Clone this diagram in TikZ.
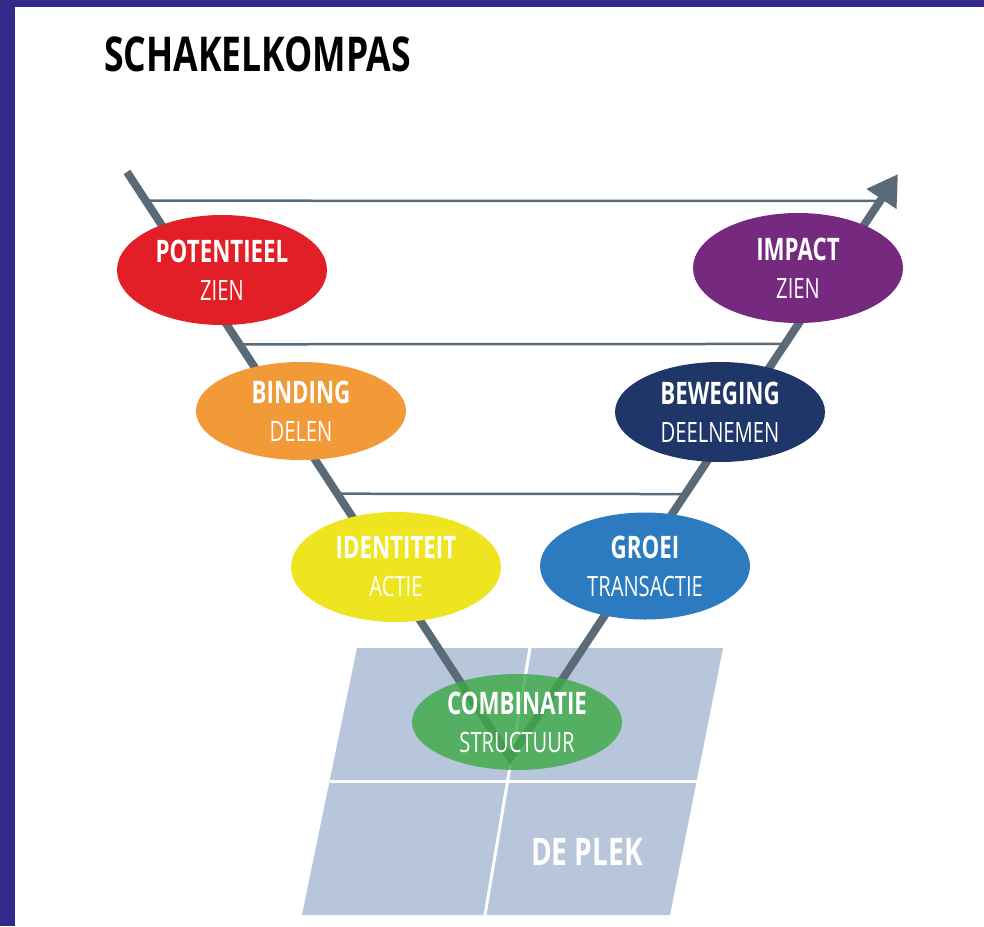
\documentclass[tikz,border=0pt]{standalone}
\usepackage{fontspec}
\usetikzlibrary{shapes.geometric,arrows.meta,calc}
\newfontfamily\ovalfont{Open Sans}[FakeStretch=0.72]
\newfontfamily\titlefont{Open Sans}[FakeStretch=0.74]
\definecolor{frameblue}{HTML}{33298A}
\definecolor{armgray}{HTML}{5B6A77}
\definecolor{plekblue}{HTML}{B7C6DA}
\definecolor{potred}{HTML}{E21F26}
\definecolor{bindorange}{HTML}{F29A38}
\definecolor{identyellow}{HTML}{EEE520}
\definecolor{groeiblue}{HTML}{2C7BC0}
\definecolor{combigreen}{HTML}{3DAA45}
\definecolor{bewegnavy}{HTML}{1F3668}
\definecolor{impactpurple}{HTML}{752A80}
\newcommand{\ovaltext}[2]{{\fontsize{31}{38}\selectfont\bfseries #1}\\{\fontsize{28}{38}\selectfont #2}}
\begin{document}
\begin{tikzpicture}[x=1pt,y=1pt,yscale=-1,
  oval/.style={ellipse,minimum width=210pt,minimum height=110pt,inner sep=0pt,text=white,align=center,
    font=\ovalfont\fontsize{30}{38}\selectfont},
  arm/.style={draw=armgray,line width=8pt},
  rung/.style={draw=armgray,line width=2.5pt}]
%frame
\fill[white] (0,0) rectangle (984,926);
\fill[frameblue] (0,0) rectangle (984,7);
\fill[frameblue] (0,0) rectangle (15,926);
\useasboundingbox (0,0) rectangle (984,926);

% Title
\node[anchor=west,inner sep=0pt,font=\titlefont\fontsize{48}{48}\selectfont\bfseries] (title) at (104,54) {SCHAKELKOMPAS};

%the place
\coordinate (p1) at (357,648);
\coordinate (p2) at (723,648);
\coordinate (p3) at (670,915);
\coordinate (p4) at (302,915);
\fill[plekblue] (p1) -- (p2) -- (p3) -- (p4) -- cycle;
\draw[white,line width=3pt] ($(p1)!0.5!(p4)$) -- ($(p2)!0.5!(p3)$);
\draw[white,line width=3pt] (530,648) -- (485,915);
\node[font=\titlefont\fontsize{38}{38}\selectfont\bfseries,text=white] (plek) at (587,852) {DE PLEK};

%the V
\coordinate (vstart) at (127,172);
\coordinate (vtip) at (510,758);
\coordinate (vend) at (898,174);
\draw[rung] ($(vstart)!0.049!(vtip)$) -- ($(vtip)!0.954!(vend)$);
\draw[rung] ($(vstart)!0.294!(vtip)$) -- ($(vtip)!0.709!(vend)$);
\draw[rung] ($(vstart)!0.549!(vtip)$) -- ($(vtip)!0.452!(vend)$);
\draw[arm,-{Triangle[length=30pt,width=34pt]}] (vstart) -- (vtip) -- (vend);

% Ovals
\node[oval,fill=potred] (potentieel) at (222,270) {\ovaltext{POTENTIEEL}{ZIEN}};
\node[oval,fill=bindorange,minimum height=98pt] (binding) at (301,411) {\ovaltext{BINDING}{DELEN}};
\node[oval,fill=identyellow] (identiteit) at (396,567) {\ovaltext{IDENTITEIT}{ACTIE}};
\node[oval,fill=groeiblue,minimum height=107pt] (groei) at (645,566) {\ovaltext{GROEI}{TRANSACTIE}};
\node[oval,fill=combigreen,minimum height=96pt,fill opacity=0.8,text opacity=1] (combinatie) at (517,722) {\ovaltext{COMBINATIE}{STRUCTUUR}};
\node[oval,fill=bewegnavy,minimum height=100pt] (beweging) at (720,412) {\ovaltext{BEWEGING}{DEELNEMEN}};
\node[oval,fill=impactpurple] (impact) at (798,268) {\ovaltext{IMPACT}{ZIEN}};

\end{tikzpicture}
\end{document}
